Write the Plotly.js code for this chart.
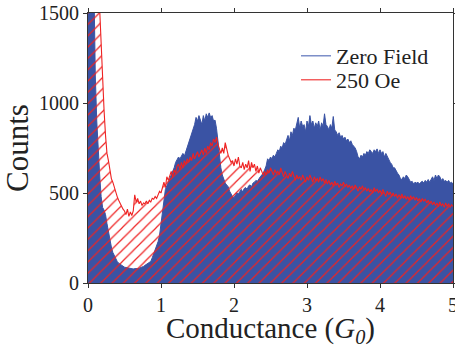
<!DOCTYPE html>
<html>
<head>
<meta charset="utf-8">
<script src="https://cdn.plot.ly/plotly-3.0.1.min.js"></script>
<style>html,body{margin:0;padding:0;background:#fff;}#chart{width:455px;height:348px;}</style>
</head>
<body>
<div id="chart"></div>
<script>
// Conductance bins (G0): start and width of the histogram bins
const binStart = 0.0;
const binWidth = 0.02;

// Zero Field counts per bin (G = 0.00 ... 5.00)
const zeroField = [
  3000,2800,2400,2000,1700,1150,900,700,600,480,
  420,405,380,330,280,235,200,170,150,135,
  120,110,104,98,92,88,86,84,82,80,
  79,78,80,78,80,82,84,88,92,98,
  104,110,115,120,140,160,185,200,230,265,
  330,410,470,520,540,560,575,590,610,640,
  670,690,700,690,710,720,705,730,750,780,
  800,830,850,880,920,900,930,910,880,930,
  900,940,920,945,920,930,900,905,860,790,
  700,640,600,570,555,545,535,510,490,480,
  475,490,500,495,510,520,505,525,530,520,
  540,545,535,555,560,570,565,580,590,600,
  610,630,650,690,680,700,690,710,700,720,
  740,730,760,750,780,770,800,820,790,840,
  820,860,850,880,920,860,900,870,880,840,
  900,870,930,880,900,860,890,870,900,850,
  890,870,940,880,870,850,880,860,925,850,
  840,820,835,810,820,800,810,790,800,780,
  790,770,760,750,730,700,690,710,700,720,
  710,730,720,740,730,720,740,730,745,720,
  740,720,730,700,720,700,690,670,660,640,
  640,620,610,600,580,575,590,580,600,590,
  570,560,565,550,560,555,560,550,560,565,
  555,570,560,575,560,580,590,570,600,580,
  600,590,570,580,565,570,560,570,555,560,
  550
];

// 250 Oe counts per bin (G = 0.00 ... 5.00)
const field250 = [
  3000,3000,3000,2900,2700,2400,2100,1800,1520,1300,
  1080,960,820,720,680,620,580,560,530,500,
  480,460,440,425,410,400,380,410,370,395,
  375,400,490,450,470,440,455,430,445,440,
  455,440,460,450,470,465,480,470,495,510,
  500,540,560,530,590,570,600,620,590,630,
  610,650,660,630,670,640,680,660,690,670,
  700,680,720,690,710,730,700,720,740,710,
  750,720,760,740,780,760,800,780,810,770,
  740,720,750,720,780,740,710,690,670,680,
  650,690,660,700,650,640,670,630,660,640,
  680,620,670,640,660,620,650,610,640,620,
  600,620,600,630,610,640,620,600,630,610,
  620,600,640,610,590,620,600,580,610,590,
  620,600,570,600,580,590,570,600,580,560,
  590,570,600,575,560,590,570,580,560,590,
  565,580,555,575,550,570,545,560,540,565,
  545,555,530,550,540,560,535,550,530,545,
  525,540,520,545,530,510,535,520,540,515,
  530,510,525,505,520,500,530,510,520,500,
  515,495,520,500,480,510,490,505,485,500,
  480,495,470,490,475,495,470,485,465,480,
  460,485,465,480,460,475,455,470,450,470,
  455,465,445,460,440,455,435,450,430,445,
  425,450,430,440,420,445,425,440,420,435,
  425
];

const seriesNames = ['Zero Field', '250 Oe'];
const xTicks = [0, 1, 2, 3, 4, 5];
const yTicks = [0, 500, 1000, 1500];

const xBins = zeroField.map((_, i) => +(binStart + i * binWidth).toFixed(4));

const serif = 'Liberation Serif';
const blue = '#3A53A4';
const red = '#EE2222';

const traces = [
  {
    x: xBins, y: zeroField, name: seriesNames[0], type: 'scatter', mode: 'lines',
    line: {color: blue, width: 1, shape: 'linear'},
    fill: 'tozeroy', fillcolor: blue, showlegend: false
  },
  {
    x: xBins, y: field250, name: seriesNames[1], type: 'scatter', mode: 'lines',
    line: {color: red, width: 1.1, shape: 'linear'},
    fill: 'tozeroy', fillcolor: 'rgba(0,0,0,0)', showlegend: false,
    fillpattern: {shape: '/', fgcolor: red, bgcolor: 'rgba(0,0,0,0)', size: 8, solidity: 0.15, fillmode: 'replace'}
  },
  // legend-only entries (line samples as in the reference)
  {x: [null], y: [null], name: seriesNames[0], type: 'scatter', mode: 'lines',
   line: {color: '#5B72BA', width: 1.2}, legend: 'legend', showlegend: true},
  {x: [null], y: [null], name: seriesNames[1], type: 'scatter', mode: 'lines',
   line: {color: '#F03A3A', width: 1.2}, legend: 'legend2', showlegend: true}
];

const legendFont = {family: serif, size: 22, color: '#222'};

const layout = {
  width: 455, height: 348,
  margin: {l: 88, r: 2, t: 13, b: 65},
  paper_bgcolor: '#fff', plot_bgcolor: '#fff',
  font: {family: serif, color: '#222', size: 20},
  showlegend: true,
  legend: {x: 0.5699, y: 0.8407, xanchor: 'left', yanchor: 'middle', bgcolor: 'rgba(0,0,0,0)',
           font: legendFont, borderwidth: 0},
  legend2: {x: 0.5699, y: 0.7519, xanchor: 'left', yanchor: 'middle', bgcolor: 'rgba(0,0,0,0)',
           font: legendFont, borderwidth: 0},
  xaxis: {
    range: [0, 5], tickvals: xTicks, ticktext: xTicks.map(String),
    showgrid: false, zeroline: false, showline: true, linecolor: '#333', linewidth: 1,
    mirror: 'ticks', ticks: 'outside', ticklen: 4, tickcolor: '#333',
    ticklabeloverflow: 'allow',
    tickfont: {family: serif, size: 20, color: '#222'},
    title: {text: 'Conductance (<i>G</i><sub><i>0</i></sub>)', font: {family: serif, size: 29, color: '#222'}, standoff: 2}
  },
  yaxis: {
    range: [0, 1500], tickvals: yTicks, ticktext: yTicks.map(String),
    showgrid: false, zeroline: false, showline: true, linecolor: '#333', linewidth: 1,
    mirror: 'ticks', ticks: 'outside', ticklen: 4, tickcolor: '#333',
    ticklabeloverflow: 'allow',
    tickfont: {family: serif, size: 20, color: '#222'},
    title: {text: 'Counts', font: {family: serif, size: 31, color: '#222'}, standoff: 5}
  }
};

Plotly.newPlot('chart', traces, layout, {displayModeBar: false, staticPlot: true});
</script>
</body>
</html>
